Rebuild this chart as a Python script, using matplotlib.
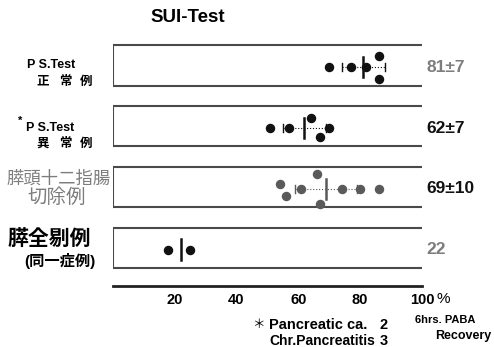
import matplotlib
matplotlib.use('Agg')
from matplotlib import pyplot as plt

plt.rcParams['font.family'] = ['Liberation Sans', 'Noto Sans CJK JP']

# PABA recovery (%) per group, top to bottom
normal = [70, 77, 82, 86, 86]
abnormal = [51, 57, 64, 67, 70]
resect = [54, 56, 61, 66, 67, 74, 80, 86]
total = [18, 25]
groups = [normal, abnormal, resect, total]
# small vertical offsets so overlapping dots stay visible
jitter = [[0, 0, 0, -0.19, 0.19],
          [0, 0, -0.17, 0.15, 0],
          [-0.08, 0.12, 0, -0.24, 0.24, 0, 0, 0],
          [0, 0]]
means = [81, 62, 69, 22]
sds = [7, 7, 10, 0]
mean_txt = ['81±7', '62±7', '69±10', '22']
ticks = [20, 40, 60, 80, 100]

grey = '#7d7d7d'
dot_col = ['#111111', '#111111', '#5a5a5a', '#111111']
txt_col = [grey, '#111111', '#111111', grey]

W, H = 494, 347
fig = plt.figure(figsize=(W / 100, H / 100), dpi=100)
ax = fig.add_axes([112.6 / W, 1 - 286 / H, 309.4 / W, 246 / H])
ax.set_xlim(0, 100)
ax.set_ylim((286 - 65.3) / 60.9, (40 - 65.3) / 60.9)

box_col = '#4a4a4a'
for i, vals in enumerate(groups):
    h = 0.332
    ax.plot([0, 100], [i - h, i - h], color=box_col, lw=1.5)
    ax.plot([0, 100], [i + h, i + h], color=box_col, lw=1.5)
    ax.plot([0, 0], [i - h, i + h], color=box_col, lw=1.5)
    yc = i + 0.03
    ys = [yc + j for j in jitter[i]]
    ax.plot(vals, ys, 'o', color=dot_col[i], ms=5.8)
    if sds[i]:
        lo, hi = means[i] - sds[i], means[i] + sds[i]
        ax.plot([lo, hi], [yc, yc], color=dot_col[i], lw=0.8, ls=':')
        ax.plot([lo, lo], [yc - 0.07, yc + 0.07], color=dot_col[i], lw=1)
        ax.plot([hi, hi], [yc - 0.07, yc + 0.07], color=dot_col[i], lw=1)
    ax.plot([means[i], means[i]], [yc - 0.17, yc + 0.17], color=dot_col[i], lw=1.8)
    ax.text(101.5, i + 0.03, mean_txt[i], color=txt_col[i], fontsize=12.5,
            fontweight='bold', va='center', ha='left')

for s in ['top', 'right', 'left']:
    ax.spines[s].set_visible(False)
ax.spines['bottom'].set_linewidth(2)
ax.spines['bottom'].set_color('#222222')
ax.spines['bottom'].set_bounds(0, 100)
ax.set_yticks([])
ax.set_xticks(ticks)
ax.tick_params(axis='x', length=0, pad=5, labelsize=10.5)
for t in ax.get_xticklabels():
    t.set_fontweight('bold')


def px(x, y):
    return x / W, 1 - y / H


fig.text(*px(150, 17), 'SUI-Test', fontsize=13.5, fontweight='bold', va='center')

fig.text(*px(75, 65), 'P S.Test', fontsize=9, fontweight='bold', ha='right', va='center')
fig.text(*px(18, 121), '*', fontsize=8, fontweight='bold', ha='left', va='center')
fig.text(*px(74, 128), 'P S.Test', fontsize=9, fontweight='bold', ha='right', va='center')
for cx, ch in zip([43, 65, 86], '正常例'):
    fig.text(*px(cx, 82), ch, fontsize=9, fontweight='bold', ha='center', va='center')
for cx, ch in zip([43, 65, 86], '異常例'):
    fig.text(*px(cx, 144), ch, fontsize=9, fontweight='bold', ha='center', va='center')

fig.text(*px(59, 178), '膵頭十二指腸', fontsize=12.5, color=grey, ha='center', va='center')
fig.text(*px(57, 198), '切除例', fontsize=14, color=grey, ha='center', va='center')
fig.text(*px(49, 239), '膵全剔例', fontsize=15, fontweight='bold', ha='center', va='center')
fig.text(*px(60, 261), '(同一症例)', fontsize=11, fontweight='bold', ha='center', va='center')

fig.text(*px(436, 299), '%', fontsize=11, va='center')
fig.text(*px(252, 325), '＊', fontsize=9, va='center')
fig.text(*px(269, 325), 'Pancreatic ca.', fontsize=10.5, fontweight='bold', va='center')
fig.text(*px(384, 325), '2', fontsize=10.5, fontweight='bold', va='center', ha='center')
fig.text(*px(269, 341), 'Chr.Pancreatitis', fontsize=10, fontweight='bold', va='center')
fig.text(*px(384, 341), '3', fontsize=10.5, fontweight='bold', va='center', ha='center')
fig.text(*px(415, 320), '6hrs. PABA', fontsize=8, fontweight='bold', va='center')
fig.text(*px(491, 336), 'Recovery', fontsize=9, fontweight='bold', va='center', ha='right')

fig.savefig('out.png', dpi=100)
